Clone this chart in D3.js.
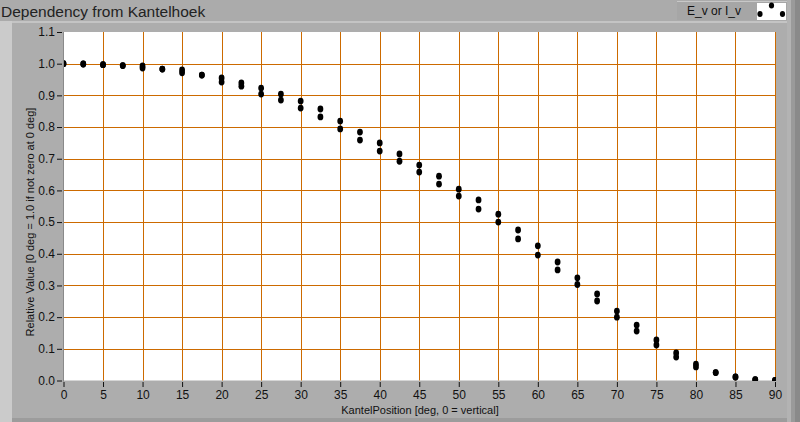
<!DOCTYPE html>
<html>
<head>
<meta charset="utf-8">
<script src="https://d3js.org/d3.v7.min.js"></script>
<style>
  body { margin: 0; background: #ababab; }
  svg text { font-family: "Liberation Sans", Arial, sans-serif; fill: #111; }
</style>
</head>
<body>
<div id="chart"></div>
<script>

// kantel angles (deg) and the two measured series (relative value)
var angles = [0, 2.5, 5, 7.5, 10, 12.5, 15, 17.5, 20, 22.5, 25, 27.5, 30, 32.5, 35, 37.5, 40, 42.5, 45,
              47.5, 50, 52.5, 55, 57.5, 60, 62.5, 65, 67.5, 70, 72.5, 75, 77.5, 80, 82.5, 85, 87.5, 90];
var upper = [1.000, 0.999, 0.997, 0.994, 0.993, 0.983, 0.980, 0.964, 0.955, 0.939, 0.923, 0.904, 0.882,
             0.857, 0.819, 0.784, 0.750, 0.715, 0.680, 0.645, 0.604, 0.570, 0.525, 0.475, 0.425, 0.374,
             0.324, 0.273, 0.219, 0.175, 0.128, 0.087, 0.052, 0.025, 0.011, 0.003, 0.000];
var lower = [1.000, 0.999, 0.997, 0.994, 0.986, 0.983, 0.971, 0.964, 0.942, 0.929, 0.904, 0.885, 0.860,
             0.832, 0.794, 0.759, 0.724, 0.692, 0.658, 0.620, 0.582, 0.541, 0.500, 0.447, 0.396, 0.349,
             0.303, 0.251, 0.200, 0.156, 0.112, 0.074, 0.043, 0.025, 0.011, 0.003, 0.000];

var xTicks = [0, 5, 10, 15, 20, 25, 30, 35, 40, 45, 50, 55, 60, 65, 70, 75, 80, 85, 90];
var yTicks = [0.0, 0.1, 0.2, 0.3, 0.4, 0.5, 0.6, 0.7, 0.8, 0.9, 1.0, 1.1];

var W = 800, H = 422;
var grid = "#cc6a00";

var svg = d3.select("#chart").append("svg")
    .attr("width", W).attr("height", H);

// window frame (labview style panel)
svg.append("rect").attr("x", 0).attr("y", 0).attr("width", W).attr("height", H).attr("fill", "#ababab");
svg.append("rect").attr("x", 0).attr("y", 21).attr("width", 787).attr("height", 2).attr("fill", "#c4c4c4");
svg.append("rect").attr("x", 0).attr("y", 21).attr("width", 12).attr("height", H - 21).attr("fill", "#cbcbcb");
svg.append("rect").attr("x", 12).attr("y", 23).attr("width", 775).attr("height", 396).attr("fill", "#adadad");
svg.append("rect").attr("x", 12).attr("y", 418).attr("width", 775).attr("height", 4).attr("fill", "#9c9c9c");
svg.append("rect").attr("x", 787).attr("y", 0).attr("width", 4).attr("height", H).attr("fill", "#b3b3b3");
svg.append("rect").attr("x", 791).attr("y", 0).attr("width", 4).attr("height", H).attr("fill", "#9a9a9a");
svg.append("rect").attr("x", 795).attr("y", 0).attr("width", 5).attr("height", H).attr("fill", "#8a8a8a");

// title
svg.append("text")
  .attr("x", 1).attr("y", 17)
  .style("font-size", "15.5px")
  .style("fill", "#222")
  .text("Dependency from Kantelhoek");

// legend
svg.append("rect").attr("x", 677).attr("y", 1).attr("width", 110).attr("height", 19).attr("fill", "#a6a6a6");
svg.append("rect").attr("x", 677).attr("y", 1).attr("width", 110).attr("height", 1).attr("fill", "#c8c8c8");
svg.append("text").attr("x", 687).attr("y", 15).style("font-size", "12px").text("E_v or I_v");
svg.append("rect").attr("x", 757).attr("y", 3).attr("width", 29).attr("height", 17).attr("fill", "#fff");
[[771.5, 5.5], [760, 14], [782.5, 14]].forEach(function(p) {
  svg.append("ellipse").attr("cx", p[0]).attr("cy", p[1]).attr("rx", 2.6).attr("ry", 3).attr("fill", "#000");
});

// scales
var x = d3.scaleLinear().domain([0, 90]).range([63.5, 775]);
var y = d3.scaleLinear().domain([0, 1.1]).range([380.5, 32]);

// plot area
svg.append("rect")
  .attr("x", x(0)).attr("y", y(1.1))
  .attr("width", x(90) - x(0) + 1).attr("height", y(0) - y(1.1))
  .attr("fill", "#fff");

svg.append("clipPath").attr("id", "clip")
  .append("rect")
  .attr("x", x(0)).attr("y", y(1.1))
  .attr("width", x(90) - x(0) + 1).attr("height", y(0) - y(1.1) + 0.5);

// grid
var g = svg.append("g").attr("clip-path", "url(#clip)");
g.selectAll(".vg").data(xTicks.slice(1)).enter().append("line")
  .attr("x1", function(d) { return Math.round(x(d)) + 0.5; })
  .attr("x2", function(d) { return Math.round(x(d)) + 0.5; })
  .attr("y1", y(1.1)).attr("y2", y(0))
  .attr("stroke", grid).attr("stroke-width", 1);
g.selectAll(".hg").data(yTicks.slice(1, -1)).enter().append("line")
  .attr("y1", function(d) { return Math.round(y(d)) + 0.5; })
  .attr("y2", function(d) { return Math.round(y(d)) + 0.5; })
  .attr("x1", x(0)).attr("x2", x(90) + 1)
  .attr("stroke", grid).attr("stroke-width", 1);

// left axis line
svg.append("line")
  .attr("x1", 63.5).attr("x2", 63.5).attr("y1", y(1.1)).attr("y2", y(0) + 1)
  .attr("stroke", "#8a8a8a");

// axes
var yAxis = svg.append("g")
  .attr("transform", "translate(62,0)")
  .call(d3.axisLeft(y).tickValues(yTicks).tickFormat(d3.format(".1f")).tickSize(5).tickPadding(2));
var xAxis = svg.append("g")
  .attr("transform", "translate(0,382)")
  .call(d3.axisBottom(x).tickValues(xTicks).tickFormat(d3.format("d")).tickSize(5).tickPadding(3));
[yAxis, xAxis].forEach(function(a) {
  a.select(".domain").remove();
  a.selectAll(".tick line").attr("stroke", "#111");
  a.selectAll(".tick text").style("font-size", "12px").attr("fill", "#111")
    .style("font-family", "'Liberation Sans', Arial, sans-serif");
});

// axis titles
svg.append("text")
  .attr("x", 420).attr("y", 414)
  .attr("text-anchor", "middle")
  .style("font-size", "11px")
  .text("KantelPosition [deg, 0 = vertical]");
svg.append("text")
  .attr("transform", "translate(34,222) rotate(-90)")
  .attr("text-anchor", "middle")
  .style("font-size", "11px")
  .text("Relative Value [0 deg = 1.0 if not zero at 0 deg]");

// data points
var pts = [];
angles.forEach(function(a, i) {
  pts.push([a, upper[i]]);
  pts.push([a, lower[i]]);
});
g.selectAll(".pt").data(pts).enter().append("ellipse")
  .attr("cx", function(d) { return x(d[0]); })
  .attr("cy", function(d) { return y(d[1]); })
  .attr("rx", 2.9).attr("ry", 3.4)
  .attr("fill", "#000");

</script>
</body>
</html>
